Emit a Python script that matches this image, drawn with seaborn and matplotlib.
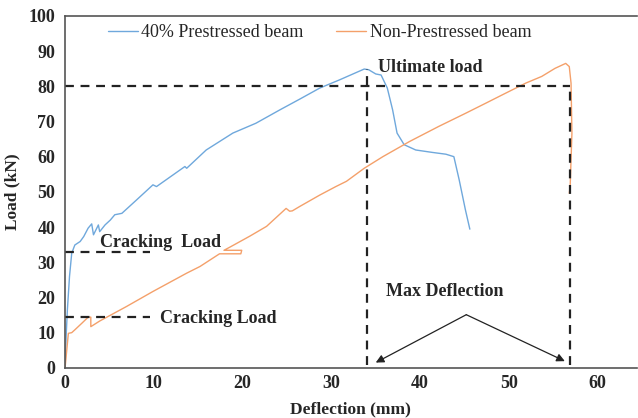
import numpy as np
import pandas as pd
import matplotlib
matplotlib.use("Agg")
import matplotlib.pyplot as plt
import seaborn as sns

# 40% prestressed beam (deflection mm, load kN)
pre_defl = [0, 0.12, 0.26, 0.5, 0.75, 1.1, 1.7, 2.1, 2.6, 3.0, 3.2, 3.75, 3.9, 4.5,
            5.1, 5.6, 6.4, 8.05, 9.9, 10.3, 13.5, 13.7, 15.9, 18.9, 21.5, 24.2,
            26.4, 28.7, 30.9, 33.7, 34.2, 35.0, 35.6, 36.3, 36.9, 37.4, 38.2,
            39.5, 41.4, 42.9, 43.8, 44.4, 45.1, 45.6]
pre_load = [0, 9.0, 16.5, 26.0, 32.6, 34.9, 35.9, 37.3, 39.7, 40.9, 37.8, 40.6, 38.7, 40.6,
            42.0, 43.5, 43.9, 47.7, 52.0, 51.5, 57.2, 56.7, 61.9, 66.7, 69.5, 73.3,
            76.3, 79.5, 81.8, 84.9, 84.7, 83.5, 83.2, 79.5, 73.3, 66.7, 63.4,
            61.9, 61.2, 60.7, 60.0, 53.4, 44.9, 39.4]

# non-prestressed beam
non_defl = [0, 0.37, 0.75, 1.1, 1.9, 2.6, 2.9, 2.9, 3.9, 6.9, 9.9, 13.7, 15.2, 17.4,
            19.8, 19.9, 17.9, 18.5, 20.8, 22.7, 24.9, 25.3, 25.6, 26.4, 28.7, 30.5,
            31.7, 33.7, 35.8, 38.8, 42.1, 45.1, 47.4, 49.6, 51.9, 53.7, 55.2, 56.4,
            56.8, 57.0, 57.1, 56.9, 56.8]
non_load = [0, 9.8, 10.0, 10.8, 12.7, 14.4, 14.4, 11.7, 13.3, 17.4, 21.7, 26.9, 28.8, 32.4,
            32.4, 33.4, 33.4, 34.2, 37.4, 40.2, 45.3, 44.5, 44.6, 45.8, 49.1, 51.5,
            53.0, 56.7, 60.0, 64.3, 68.6, 72.3, 75.2, 78.0, 80.9, 82.8, 85.1, 86.5,
            85.6, 80.9, 66.7, 51.5, 49.6]

series_names = ["40% Prestressed beam", "Non-Prestressed beam"]
series_colors = ["#6FA8DC", "#F4A06A"]

# guide lines
ultimate_load = 80
pre_ult_defl = 34.0
pre_ult_top = 85
non_max_defl = 56.9
crack_pre = 32.8
crack_non = 14.5
crack_end = 9.6

df = pd.concat([
    pd.DataFrame({"Deflection": pre_defl, "Load": pre_load, "beam": series_names[0]}),
    pd.DataFrame({"Deflection": non_defl, "Load": non_load, "beam": series_names[1]}),
], ignore_index=True)

sns.set_style("white")
plt.rcParams["font.family"] = ["Liberation Serif", "DejaVu Serif"]

fig, ax = plt.subplots(figsize=(6.38, 4.18), dpi=100)
fig.subplots_adjust(left=0.102, right=0.998, top=0.962, bottom=0.12)

sns.lineplot(data=df, x="Deflection", y="Load", hue="beam", sort=False,
             estimator=None, palette=dict(zip(series_names, series_colors)),
             linewidth=1.0, ax=ax)

dash = dict(color="#222222", lw=1.6, ls=(0, (4, 3)))
ax.plot([0, non_max_defl], [ultimate_load, ultimate_load], **dash)
ax.plot([pre_ult_defl, pre_ult_defl], [0.8, pre_ult_top], **dash)
ax.plot([non_max_defl, non_max_defl], [0.8, ultimate_load], **dash)
ax.plot([0, crack_end], [crack_pre, crack_pre], **dash)
ax.plot([0, crack_end], [crack_non, crack_non], **dash)

bold = dict(fontsize=13, fontweight="bold")
ax.text(3.9, 35.6, "Cracking  Load", va="center", **bold)
ax.text(10.7, 13.9, "Cracking Load", va="center", **bold)
ax.text(35.3, 85.3, "Ultimate load", va="center", **bold)
ax.text(36.2, 21.6, "Max Deflection", va="center", **bold)

apex = (45.2, 15.1)
for tip in [(35.0, 1.5), (56.3, 1.9)]:
    ax.annotate("", xy=tip, xytext=apex,
                arrowprops=dict(arrowstyle="-|>", color="#222222", lw=0.9,
                                mutation_scale=12, shrinkA=0, shrinkB=0))

ax.set_xlim(0, 64.4)
ax.set_ylim(0, 100)
ax.set_xticks(range(0, 61, 10))
ax.set_yticks(range(0, 101, 10))
for lab in ax.get_xticklabels() + ax.get_yticklabels():
    lab.set_fontweight("bold")
    lab.set_fontsize(13)
ax.tick_params(axis="x", direction="in", length=4, width=1, color="#555555", pad=5)
ax.tick_params(axis="y", direction="out", length=3, width=1, color="#555555", pad=4)
ax.set_xlabel("Deflection (mm)", fontsize=12.5, fontweight="bold", labelpad=7)
ax.set_ylabel("Load (kN)", fontsize=12.5, fontweight="bold", labelpad=6)

for side in ["left", "bottom", "top"]:
    ax.spines[side].set_color("#555555")
    ax.spines[side].set_linewidth(1.2)
ax.spines["right"].set_visible(False)

leg = ax.legend(loc="upper left", bbox_to_anchor=(0.075, 0.976), ncol=2,
                frameon=False, fontsize=13, handlelength=1.65,
                handletextpad=0.2, columnspacing=1.8,
                borderpad=0, borderaxespad=0)

fig.savefig("out.png", dpi=100)
